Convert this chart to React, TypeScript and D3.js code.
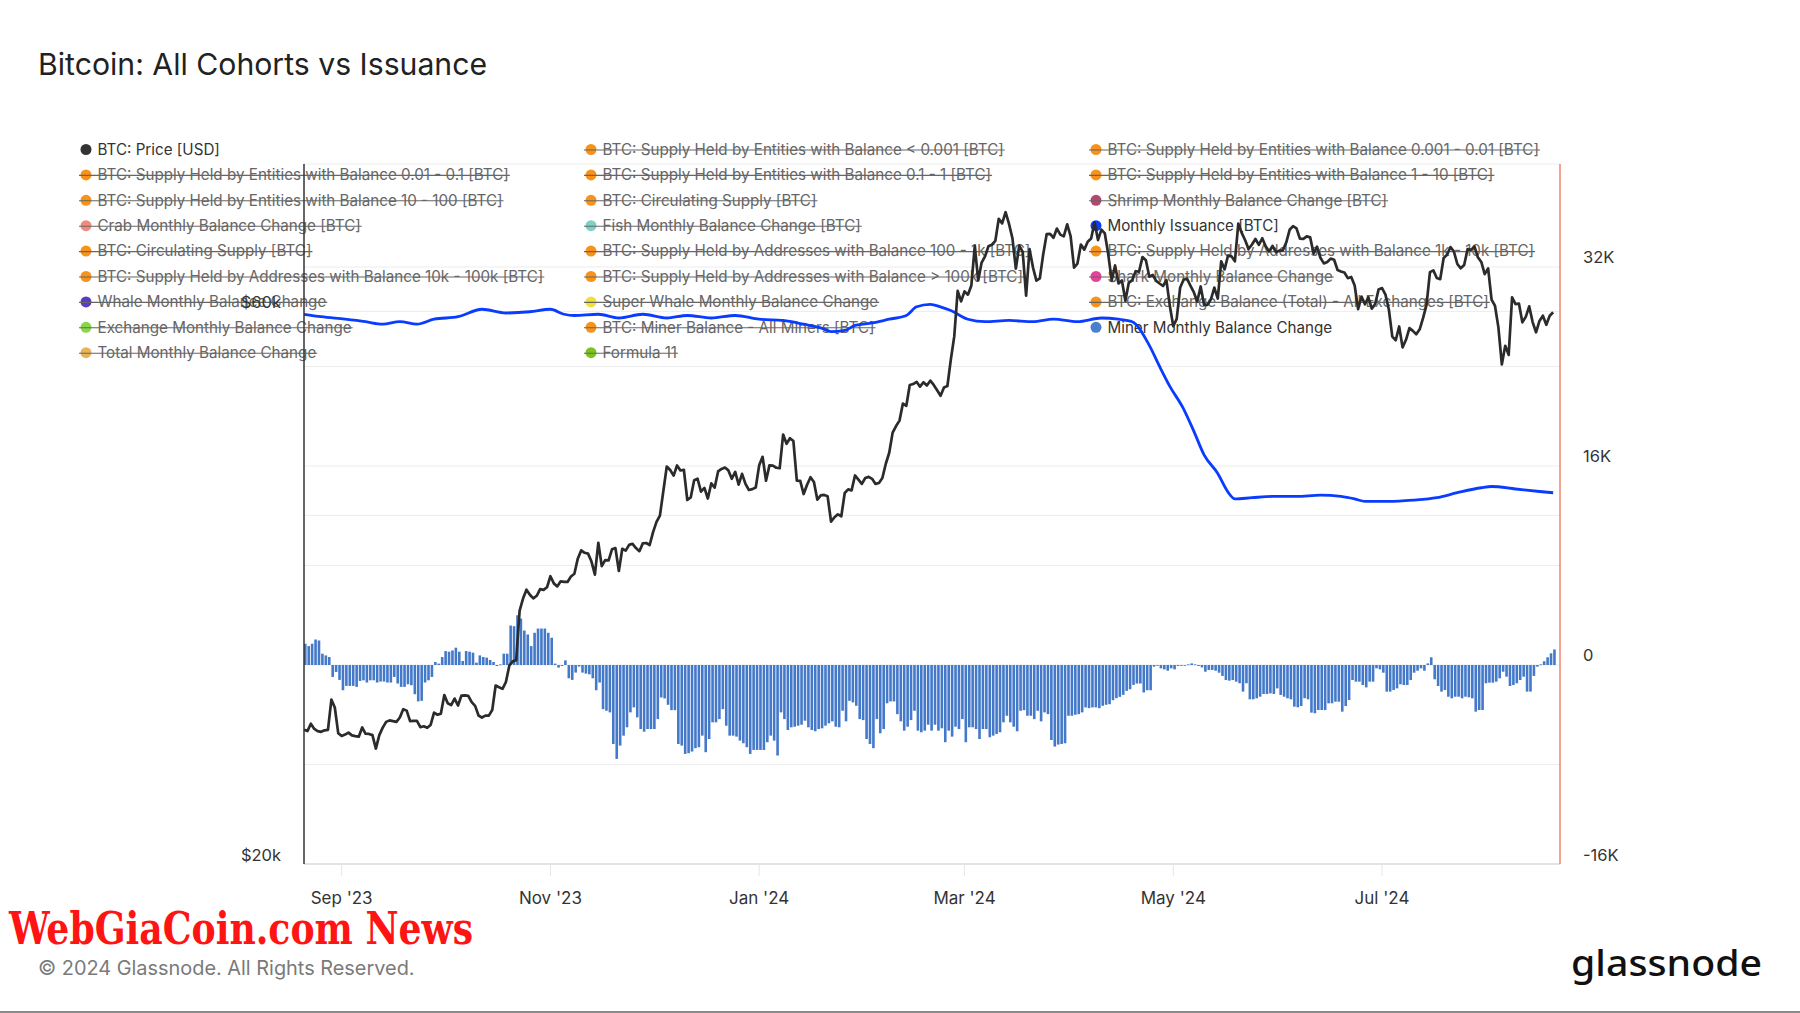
import React, { useEffect, useRef } from "react";
import * as d3 from "d3";

// ---------------- DATA ----------------
const START_DATE = "2023-08-21"; // first daily point
// BTC price, daily, in thousands of USD (2023-08-21 .. 2024-08-20)
const priceK: number[] = [
  26.12, 26.05, 26.43, 26.16, 26.05, 26.01, 26.09, 26.11, 27.73, 27.30, 25.94,
  25.80, 25.87, 25.97, 25.83, 25.79, 25.76, 26.24, 25.91, 25.90, 25.84, 25.16, 25.84, 26.23, 26.53, 26.61, 26.57, 26.53, 26.76, 27.21, 27.13, 26.57, 26.58, 26.58, 26.25, 26.30, 26.22, 26.37, 27.02, 26.91, 26.97,
  27.98, 27.53, 27.43, 27.79, 27.41, 27.95, 27.97, 27.94, 27.59, 27.39, 26.87, 26.76, 26.86, 26.86, 27.16, 28.52, 28.42, 28.33, 28.72, 29.68, 29.92, 29.99, 33.09, 33.90, 34.50, 34.16, 33.91, 34.09, 34.54, 34.49, 34.67,
  35.44, 34.94, 34.73, 35.08, 35.05, 35.04, 35.42, 35.62, 36.70, 37.31, 37.13, 37.07, 36.49, 35.55, 37.88, 36.16, 36.59, 36.58, 37.39, 37.48, 35.81, 37.43, 37.29, 37.72, 37.80, 37.48, 37.25, 37.83, 37.86, 37.71,
  38.69, 39.48, 39.98, 41.98, 44.08, 43.77, 43.29, 44.17, 43.73, 43.79, 41.24, 41.45, 42.89, 43.02, 41.93, 42.24, 41.36, 42.62, 42.27, 43.65, 43.87, 43.99, 43.74, 43.02, 43.61, 42.52, 43.44, 42.58, 42.07, 42.14, 42.28,
  44.18, 44.94, 42.85, 44.18, 44.16, 43.97, 43.93, 46.97, 46.12, 46.63, 46.37, 42.85, 42.84, 41.73, 42.51, 43.15, 42.74, 41.26, 41.62, 41.66, 41.55, 39.51, 39.85, 40.08, 39.93, 41.82, 42.12, 42.03, 43.30, 42.94, 42.58,
  43.08, 43.18, 43.01, 42.58, 42.66, 43.08, 44.32, 45.30, 47.15, 47.77, 48.29, 49.96, 49.73, 51.83, 51.93, 52.16, 51.66, 52.12, 51.78, 52.28, 51.84, 51.30, 50.73, 51.57, 51.73, 54.52, 57.09, 62.50, 61.20,
  62.44, 62.03, 63.17, 68.33, 63.80, 66.11, 66.93, 68.30, 68.50, 69.02, 72.12, 71.48, 73.08, 71.40, 69.40, 65.32, 68.39, 67.55, 61.91, 67.91, 65.49, 63.78, 64.06, 67.23, 69.96, 69.99, 69.46, 70.74, 69.90, 69.65, 71.33,
  69.70, 65.45, 65.98, 68.52, 67.84, 68.90, 69.36, 71.63, 69.14, 70.59, 70.06, 67.20, 63.82, 65.74, 63.43, 63.81, 61.28, 63.51, 63.84, 64.99, 64.93, 66.84, 66.41, 64.28, 64.50, 63.76, 63.42, 63.11, 63.84, 60.64,
  58.25, 59.12, 62.89, 63.89, 64.03, 63.16, 62.33, 61.19, 63.05, 60.79, 60.79, 61.45, 62.90, 61.55, 66.27, 65.23, 67.05, 66.94, 66.28, 71.45, 70.14, 69.12, 67.93, 68.53, 69.29, 68.50, 69.39, 68.30, 67.59, 68.35, 67.49,
  67.71, 67.75, 68.80, 70.57, 71.08, 70.76, 69.34, 69.31, 69.65, 69.51, 67.31, 68.24, 66.75, 66.01, 66.19, 66.64, 66.49, 65.15, 64.96, 64.83, 64.10, 64.25, 63.18, 60.28, 61.80, 60.86, 61.71, 60.32, 60.89, 62.68,
  62.85, 62.03, 60.20, 57.06, 56.66, 58.23, 55.86, 56.71, 58.05, 57.72, 57.34, 57.90, 59.23, 60.79, 64.87, 65.10, 64.12, 63.97, 66.71, 67.15, 68.19, 67.58, 65.93, 65.37, 65.80, 67.91, 67.81, 68.26, 66.82, 66.20, 64.62,
  65.36, 61.42, 60.68, 58.12, 53.99, 56.03, 55.03, 61.71, 60.88, 60.95, 58.71, 59.35, 60.60, 58.74, 57.56, 58.87, 59.49, 58.43, 59.48, 59.90,
];

// Miner Monthly Balance Change, daily, in thousands of BTC
const minerChangeK: number[] = [
  1.71, 1.52, 1.71, 2.05, 1.97, 0.91, 0.77, 0.64,
  -0.96, -0.56, -1.20, -2.03, -1.68, -1.68, -1.68, -1.76, -1.28, -1.23, -1.41, -1.23,
  -1.23, -1.41, -1.33, -1.33, -1.41, -1.41, -0.96, -1.49, -1.76, -1.76, -1.55, -1.63,
  -2.35, -2.93, -2.88, -1.41, -1.23, -0.96, 0.24, 0.11, 0.64, 1.12, 1.07, 1.17,
  1.39, 1.07, 0.32, 1.12, 1.07, 0.99, 0.19, 0.77, 0.64, 0.59, 0.40, 0.24,
  -0.08, 0.05, 0.91, 0.91, 3.17, 3.12, 4.00, 3.73, 2.77, 2.45, 1.52, 2.59,
  2.93, 2.93, 2.93, 2.59, 2.19, 0.11, -0.21, -0.08, 0.37, -1.07, -1.20, -0.61,
  -0.13, -0.61, -0.69, -0.75, -1.07, -2.03, -1.41, -3.55, -3.68, -3.81, -6.35, -7.55,
  -6.48, -5.68, -5.01, -3.81, -3.41, -4.21, -5.15, -5.36, -5.15, -5.15, -5.15, -4.35,
  -2.61, -2.69, -3.20, -3.63, -3.63, -6.35, -6.48, -7.15, -7.09, -6.96, -6.69, -6.61,
  -5.68, -7.01, -5.95, -4.61, -4.61, -4.35, -3.55, -4.88, -5.68, -5.68, -5.76, -6.08,
  -6.29, -6.61, -7.15, -6.83, -6.83, -6.83, -6.83, -6.21, -5.68, -6.08, -7.28, -3.81,
  -4.35, -5.23, -5.01, -4.96, -4.88,
  -4.80, -4.48, -5.01, -5.23, -5.33, -5.15, -5.09, -4.88, -4.69, -4.53, -4.96, -5.01,
  -3.68, -4.53, -2.88, -3.01, -3.28, -4.35, -4.43, -5.95, -6.35, -6.69, -4.35, -5.49,
  -5.15, -3.08, -2.93, -2.93, -3.95, -4.53, -5.28, -4.96, -4.43, -3.68, -5.28, -5.41,
  -5.28, -4.80, -5.28, -4.80, -5.28, -5.09, -6.21, -5.28, -5.76, -4.96, -5.15, -4.35,
  -6.21, -5.01, -5.01, -5.15, -5.95, -5.15, -5.15, -5.81, -5.68, -5.55, -5.41, -4.61,
  -4.08, -4.61, -4.96, -5.33, -3.68, -3.63, -4.08, -4.08, -4.35, -3.68, -4.53, -3.81,
  -3.95, -6.03, -6.56, -6.40, -6.35, -6.29, -4.08, -4.08, -4.00, -3.95, -3.81, -3.41,
  -3.47, -3.41, -3.41, -3.47, -3.28, -3.20, -3.15, -2.83, -2.67, -2.56, -2.40, -2.08,
  -1.95, -1.60, -1.49, -1.49, -2.21, -2.03, -2.03, -0.13, -0.03, -0.27, -0.35, -0.46,
  -0.27, -0.35, -0.08, -0.05, -0.03, 0.05, 0.13, 0.05, -0.08, -0.19, -0.54, -0.40,
  -0.40, -0.46, -0.62, -0.88, -1.21, -1.26, -1.21, -1.34, -1.47, -2.14, -1.47, -2.76,
  -2.76, -2.68, -2.55, -2.33, -2.33, -2.28, -2.33, -1.88, -2.41, -2.55, -2.68, -2.76,
  -3.35, -3.40,
  -3.30, -2.67, -2.76, -3.83, -3.88, -3.62, -3.62, -3.62, -3.08, -3.08, -2.95, -2.95,
  -3.75, -3.30, -2.82, -1.21, -1.34, -1.34, -1.61, -1.80, -1.34, -1.34, -0.27, -0.35,
  -0.62, -2.14, -2.14, -2.01, -1.88, -1.55, -1.61, -1.61, -1.21, -0.62, -0.46, -0.27,
  -0.46, 0.13, 0.62,
  -1.15, -1.69, -2.14, -2.01, -2.55, -2.68, -2.55, -2.55, -2.68, -2.55, -2.60, -2.68,
  -3.75, -3.62, -3.62, -1.47, -1.42, -1.42, -1.34, -1.07, -0.54, -0.94, -1.69, -1.61,
  -1.47, -1.21, -0.94, -2.14, -2.14, -0.88, -0.13, 0.05, 0.30, 0.62, 0.94, 1.25,
];

// Monthly Issuance [BTC], read at these dates, in thousands of BTC
const issuanceDates: string[] = [
  "2023-08-21", "2023-08-26", "2023-09-02", "2023-09-08", "2023-09-13", "2023-09-18", "2023-09-23", "2023-09-28",
  "2023-10-05", "2023-10-12", "2023-10-19", "2023-10-26", "2023-11-01", "2023-11-05", "2023-11-08", "2023-11-15",
  "2023-11-21", "2023-11-28", "2023-12-05", "2023-12-11", "2023-12-18", "2023-12-25", "2024-01-01", "2024-01-08",
  "2024-01-14", "2024-01-19", "2024-01-22", "2024-01-26", "2024-01-29", "2024-02-03", "2024-02-08", "2024-02-13",
  "2024-02-16", "2024-02-20", "2024-02-23", "2024-02-26", "2024-03-02", "2024-03-07", "2024-03-14", "2024-03-21",
  "2024-03-27", "2024-04-03", "2024-04-10", "2024-04-15", "2024-04-19", "2024-04-24", "2024-04-27", "2024-04-30",
  "2024-05-04", "2024-05-07", "2024-05-10", "2024-05-14", "2024-05-17", "2024-05-19", "2024-05-24", "2024-05-30",
  "2024-06-06", "2024-06-13", "2024-06-19", "2024-06-23", "2024-06-26", "2024-07-03", "2024-07-10", "2024-07-17",
  "2024-07-23", "2024-07-30", "2024-08-02", "2024-08-09", "2024-08-16", "2024-08-20",
];
const issuanceK: number[] = [
  28.2, 28.0, 27.8, 27.6, 27.4, 27.6, 27.4, 27.8,
  28.0, 28.6, 28.3, 28.4, 28.6, 28.2, 28.1, 28.2,
  27.9, 28.2, 27.9, 28.1, 27.9, 28.1, 27.8, 27.7,
  27.4, 27.1, 26.8, 26.9, 27.3, 27.5, 27.8, 28.1,
  28.8, 29.0, 28.8, 28.5, 27.8, 27.6, 27.7, 27.6,
  27.8, 27.6, 27.9, 27.8, 27.6, 25.7, 24.0, 22.4,
  20.6, 18.8, 16.9, 15.4, 13.9, 13.35, 13.45, 13.55,
  13.55, 13.65, 13.55, 13.35, 13.15, 13.15, 13.25, 13.45,
  13.85, 14.25, 14.35, 14.15, 13.95, 13.85,
];

const xTickDates = ["2023-09-01", "2023-11-01", "2024-01-01", "2024-03-01", "2024-05-01", "2024-07-01"];
const xTickLabels = ["Sep '23", "Nov '23", "Jan '24", "Mar '24", "May '24", "Jul '24"];
const leftGridValues = [20000, 40000, 60000];
const leftLabelValues = [20000, 60000];
const leftLabelTexts = ["$20k", "$60k"];
const rightGridValues = [-8000, 0, 8000, 16000, 24000, 32000];
const rightLabelValues = [-16000, 0, 16000, 32000];
const rightLabelTexts = ["-16K", "0", "16K", "32K"];

const legendLabels = [
  "BTC: Price [USD]",
  "BTC: Supply Held by Entities with Balance < 0.001 [BTC]",
  "BTC: Supply Held by Entities with Balance 0.001 - 0.01 [BTC]",
  "BTC: Supply Held by Entities with Balance 0.01 - 0.1 [BTC]",
  "BTC: Supply Held by Entities with Balance 0.1 - 1 [BTC]",
  "BTC: Supply Held by Entities with Balance 1 - 10 [BTC]",
  "BTC: Supply Held by Entities with Balance 10 - 100 [BTC]",
  "BTC: Circulating Supply [BTC]",
  "Shrimp Monthly Balance Change [BTC]",
  "Crab Monthly Balance Change [BTC]",
  "Fish Monthly Balance Change [BTC]",
  "Monthly Issuance [BTC]",
  "BTC: Circulating Supply [BTC]",
  "BTC: Supply Held by Addresses with Balance 100 - 1k [BTC]",
  "BTC: Supply Held by Addresses with Balance 1k - 10k [BTC]",
  "BTC: Supply Held by Addresses with Balance 10k - 100k [BTC]",
  "BTC: Supply Held by Addresses with Balance > 100k [BTC]",
  "Shark Monthly Balance Change",
  "Whale Monthly Balance Change",
  "Super Whale Monthly Balance Change",
  "BTC: Exchange Balance (Total) - All Exchanges [BTC]",
  "Exchange Monthly Balance Change",
  "BTC: Miner Balance - All Miners [BTC]",
  "Miner Monthly Balance Change",
  "Total Monthly Balance Change",
  "Formula 11",
];
const legendColors = [
  "#333333", "#f7931a", "#f7931a",
  "#f7931a", "#f7931a", "#f7931a",
  "#f7931a", "#f7931a", "#b4466f",
  "#f08a7c", "#7fcfc6", "#0a3cff",
  "#f7931a", "#f7931a", "#f7931a",
  "#f7931a", "#f7931a", "#e8419b",
  "#5a3bc2", "#f2e03a", "#f7931a",
  "#8ad64a", "#f7931a", "#4a7fcf",
  "#e9b35a", "#7dc21e",
];
const legendActive = [
  true, false, false,
  false, false, false,
  false, false, false,
  false, false, true,
  false, false, false,
  false, false, false,
  false, false, false,
  false, false, true,
  false, false,
];

// ---------------- CHART ----------------
const W = 1800;
const H = 1013;
const PL = 304, PR = 1560, PT = 164, PB = 864;
const FONT = "Inter, 'Noto Sans', sans-serif";

export default function App() {
  const ref = useRef<SVGSVGElement | null>(null);

  useEffect(() => {
    document.body.style.margin = "0";
    const svg = d3.select(ref.current);
    svg.selectAll("*").remove();

    const parse = d3.utcParse("%Y-%m-%d");
    const start = parse(START_DATE) as Date;
    const x = d3.scaleUtc().domain([start, d3.utcDay.offset(start, 367)]).range([PL, PR]);
    const yL = d3.scaleLog().domain([20000, 80430]).range([PB, PT]);
    const yR = d3.scaleLinear().domain([-16000, 40280]).range([PB, PT]);

    svg.append("rect").attr("width", W).attr("height", H).attr("fill", "#ffffff");

    // title
    svg.append("text").attr("x", 38).attr("y", 75).attr("font-family", FONT)
      .attr("font-size", 30.2).attr("fill", "#222").text("Bitcoin: All Cohorts vs Issuance");

    // gridlines
    const g = svg.append("g");
    g.append("line").attr("x1", PL).attr("x2", PR).attr("y1", PT).attr("y2", PT)
      .attr("stroke", "#ececec").attr("stroke-width", 1);
    rightGridValues.forEach((v) => {
      g.append("line").attr("x1", PL).attr("x2", PR).attr("y1", yR(v)).attr("y2", yR(v))
        .attr("stroke", "#ececec").attr("stroke-width", 1);
    });
    leftGridValues.forEach((v) => {
      g.append("line").attr("x1", PL).attr("x2", PR).attr("y1", yL(v)).attr("y2", yL(v))
        .attr("stroke", "#ececec").attr("stroke-width", 1);
    });

    // x axis
    g.append("line").attr("x1", PL).attr("x2", PR).attr("y1", PB).attr("y2", PB)
      .attr("stroke", "#dcdcdc").attr("stroke-width", 1.5);
    xTickDates.forEach((d, i) => {
      const xx = x(parse(d) as Date);
      g.append("line").attr("x1", xx).attr("x2", xx).attr("y1", PB).attr("y2", PB + 12)
        .attr("stroke", "#e6e6e6").attr("stroke-width", 1);
      g.append("text").attr("x", xx).attr("y", 904).attr("text-anchor", "middle")
        .attr("font-family", FONT).attr("font-size", 17).attr("fill", "#333").text(xTickLabels[i]);
    });

    // legend (drawn under the series)
    const lg = svg.append("g");
    const colX = [86, 591, 1096];
    legendLabels.forEach((label, i) => {
      const col = i % 3;
      const row = Math.floor(i / 3);
      const cx = colX[col];
      const cy = 149.5 + row * 25.4;
      const active = legendActive[i];
      lg.append("circle").attr("cx", cx).attr("cy", cy).attr("r", 5.5).attr("fill", legendColors[i]);
      const t = lg.append("text").attr("x", cx + 11.5).attr("y", cy + 5.2).attr("font-family", FONT)
        .attr("font-size", 15.2).attr("fill", active ? "#333" : "#666").text(label);
      if (!active) {
        const w = (t.node() as SVGTextElement).getComputedTextLength();
        lg.append("line").attr("x1", cx - 7).attr("x2", cx + 11.5 + w + 1)
          .attr("y1", cy + 0.5).attr("y2", cy + 0.5).attr("stroke", "#666").attr("stroke-width", 1.1);
      }
    });

    // bars
    const bw = 2.6;
    const bars = svg.append("g");
    minerChangeK.forEach((v, i) => {
      const d = d3.utcDay.offset(start, i);
      const val = v * 1000;
      const y0 = yR(0);
      const y1 = yR(val);
      bars.append("rect").attr("x", x(d)).attr("width", bw)
        .attr("y", Math.min(y0, y1)).attr("height", Math.max(0.8, Math.abs(y1 - y0)))
        .attr("fill", "#4479c9");
    });

    // issuance line
    const issData = issuanceDates.map((d, i) => ({ d: parse(d) as Date, v: issuanceK[i] * 1000 }));
    svg.append("path").datum(issData)
      .attr("d", d3.line<{ d: Date; v: number }>().x((p) => x(p.d)).y((p) => yR(p.v)).curve(d3.curveMonotoneX))
      .attr("fill", "none").attr("stroke", "#0a3cff").attr("stroke-width", 2.8).attr("stroke-linejoin", "round");

    // price line
    const priceData = priceK.map((v, i) => ({ d: d3.utcDay.offset(start, i), v: v * 1000 }));
    svg.append("path").datum(priceData)
      .attr("d", d3.line<{ d: Date; v: number }>().x((p) => x(p.d)).y((p) => yL(p.v)))
      .attr("fill", "none").attr("stroke", "#2b2b2b").attr("stroke-width", 2.7).attr("stroke-linejoin", "round");

    // axis frame lines
    svg.append("line").attr("x1", PL).attr("x2", PL).attr("y1", PT).attr("y2", PB)
      .attr("stroke", "#333").attr("stroke-width", 1.5);
    svg.append("line").attr("x1", PR).attr("x2", PR).attr("y1", PT).attr("y2", PB)
      .attr("stroke", "#f2866f").attr("stroke-width", 1.5);

    // left labels
    leftLabelValues.forEach((v, i) => {
      svg.append("text").attr("x", 281).attr("y", yL(v) - 3.5).attr("text-anchor", "end")
        .attr("font-family", FONT).attr("font-size", 16.5).attr("fill", "#333").text(leftLabelTexts[i]);
    });
    // right labels
    rightLabelValues.forEach((v, i) => {
      svg.append("text").attr("x", 1583).attr("y", yR(v) - 3.5)
        .attr("font-family", FONT).attr("font-size", 16.5).attr("fill", "#333").text(rightLabelTexts[i]);
    });

    // watermark
    svg.append("text").attr("x", 9).attr("y", 944)
      .attr("font-family", "'DejaVu Serif Condensed', 'DejaVu Serif', serif")
      .attr("font-weight", "bold").attr("font-size", 44).attr("fill", "#ff1414")
      .attr("textLength", 464).attr("lengthAdjust", "spacingAndGlyphs").text("WebGiaCoin.com News");

    // copyright
    svg.append("text").attr("x", 38).attr("y", 975).attr("font-family", FONT)
      .attr("font-size", 19.9).attr("fill", "#7a7a7a").text("© 2024 Glassnode. All Rights Reserved.");

    // logo
    svg.append("text").attr("x", 1571).attr("y", 976).attr("font-family", "'Noto Sans', sans-serif")
      .attr("font-weight", 500).attr("font-size", 37).attr("fill", "#111")
      .attr("textLength", 191).attr("lengthAdjust", "spacingAndGlyphs").text("glassnode");

    // bottom rule
    svg.append("rect").attr("x", 0).attr("y", 1011).attr("width", W).attr("height", 2).attr("fill", "#8a8a8a");
  }, []);

  return (
    <div style={{ position: "absolute", left: 0, top: 0, width: W, height: H }}>
      <svg ref={ref} width={W} height={H} style={{ display: "block" }} />
    </div>
  );
}
